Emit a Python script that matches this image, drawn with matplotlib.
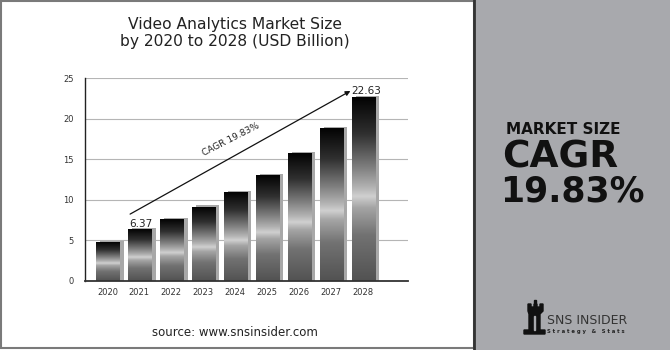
import numpy as np
import matplotlib.pyplot as plt
from matplotlib.colors import LinearSegmentedColormap
from matplotlib.patches import Rectangle, Polygon

# chart data
years = ['2020', '2021', '2022', '2023', '2024', '2025', '2026', '2027', '2028']
values = [4.7, 6.37, 7.6, 9.1, 10.9, 13.0, 15.7, 18.8, 22.63]
yticks = [0, 5, 10, 15, 20, 25]

# metallic gradient, bottom -> top
metal = LinearSegmentedColormap.from_list('metal', [
    (0.0, '#525252'), (0.25, '#727272'), (0.40, '#a5a5a5'), (0.46, '#d0d0d0'),
    (0.51, '#b2b2b2'), (0.62, '#7e7e7e'), (0.80, '#303030'), (1.0, '#030303')])

fig = plt.figure(figsize=(6.7, 3.5), dpi=100)

# background panels in pixel coordinates
bg = fig.add_axes([0, 0, 1, 1], zorder=0)
bg.set_xlim(0, 670)
bg.set_ylim(350, 0)
bg.axis('off')
bg.add_patch(Rectangle((0, 0), 670, 350, color='white'))
bg.add_patch(Rectangle((474, 0), 196, 350, color='#a8a9ad'))
bg.add_patch(Rectangle((1, 1), 473, 347, fill=False, ec='#7a7a7a', lw=1.5))
bg.plot([474, 474], [0, 350], color='#333333', lw=2)

# logo: simple rook icon + text
bg.add_patch(Polygon([(528, 304), (531, 304), (531, 307), (534, 307), (534, 304),
                      (537, 304), (537, 307), (540, 307), (540, 304), (543, 304),
                      (543, 311), (540, 314), (540, 330), (545, 330), (545, 334),
                      (524, 334), (524, 330), (529, 330), (529, 314), (528, 311)],
                     closed=True, color='#111111'))
bg.add_patch(Rectangle((534, 299.5), 2.2, 3.5, color='#111111'))
bg.add_patch(Rectangle((533.5, 316), 1.8, 14, color='#a8a9ad'))
bg.text(547, 321, 'SNS INSIDER', fontsize=9, color='#333333', va='center', ha='left')
bg.text(547, 331.5, 'S t r a t e g y   &   S t a t s', fontsize=3.8, color='#222222',
        fontweight='bold', va='center', ha='left')

# right panel texts
bg.text(506, 129, 'MARKET SIZE', fontsize=11, fontweight='bold', color='#111111',
        va='center', ha='left')
bg.text(502, 157, 'CAGR', fontsize=27, fontweight='bold', color='#111111',
        va='center', ha='left')
bg.text(500, 191, '19.83%', fontsize=25, fontweight='bold', color='#111111',
        va='center', ha='left')

# titles
fig.text(0.351, 0.905, 'Video Analytics Market Size\nby 2020 to 2028 (USD Billion)',
         ha='center', va='center', fontsize=11.2, color='#222222', linespacing=1.2)
fig.text(0.351, 0.051, 'source: www.snsinsider.com', ha='center', va='center',
         fontsize=8.5, color='#222222')

# main chart
ax = fig.add_axes([0.1269, 0.198, 0.482, 0.578], zorder=1)
ax.set_facecolor('white')

x = np.arange(len(years))
w = 0.73
grad = np.linspace(0, 1, 256).reshape(-1, 1)
for xi, v in zip(x, values):
    # shadow strip behind the bar
    ax.bar(xi + 0.14, v + 0.2, width=w, color='#a8a8a8', zorder=2)
    ax.imshow(grad, extent=[xi - w / 2, xi + w / 2, 0, v], origin='lower',
              aspect='auto', cmap=metal, zorder=3)

ax.set_xlim(-0.70, 9.4)
ax.set_ylim(0, 25)
ax.set_yticks(yticks)
ax.set_xticks(x)
ax.set_xticklabels(years)
ax.grid(axis='y', color='#b5b5b5', lw=0.8, zorder=0)
ax.set_axisbelow(True)
ax.tick_params(length=0, labelsize=6, colors='#333333')
ax.tick_params(axis='y', pad=8)
ax.tick_params(axis='x', pad=5)
for s in ['top', 'right']:
    ax.spines[s].set_visible(False)
ax.spines['left'].set_color('#222222')
ax.spines['left'].set_linewidth(1)
ax.spines['bottom'].set_color('#333333')
ax.spines['bottom'].set_linewidth(1.3)
ax.spines['bottom'].set_zorder(4)

# CAGR arrow and labels
ax.annotate('', xy=(7.6, 23.45), xytext=(0.71, 8.23),
            arrowprops=dict(arrowstyle='-|>', color='#111111', lw=0.9,
                            mutation_scale=7, shrinkA=0, shrinkB=0))
ax.text(3.87, 17.4, 'CAGR 19.83%', fontsize=6.5, rotation=27, color='#222222',
        ha='center', va='center')
ax.text(1.05, 6.95, '6.37', fontsize=7.5, color='#222222', ha='center', va='center')
ax.text(8.1, 23.5, '22.63', fontsize=7.5, color='#222222', ha='center', va='center')

fig.savefig('out.png', dpi=100)
